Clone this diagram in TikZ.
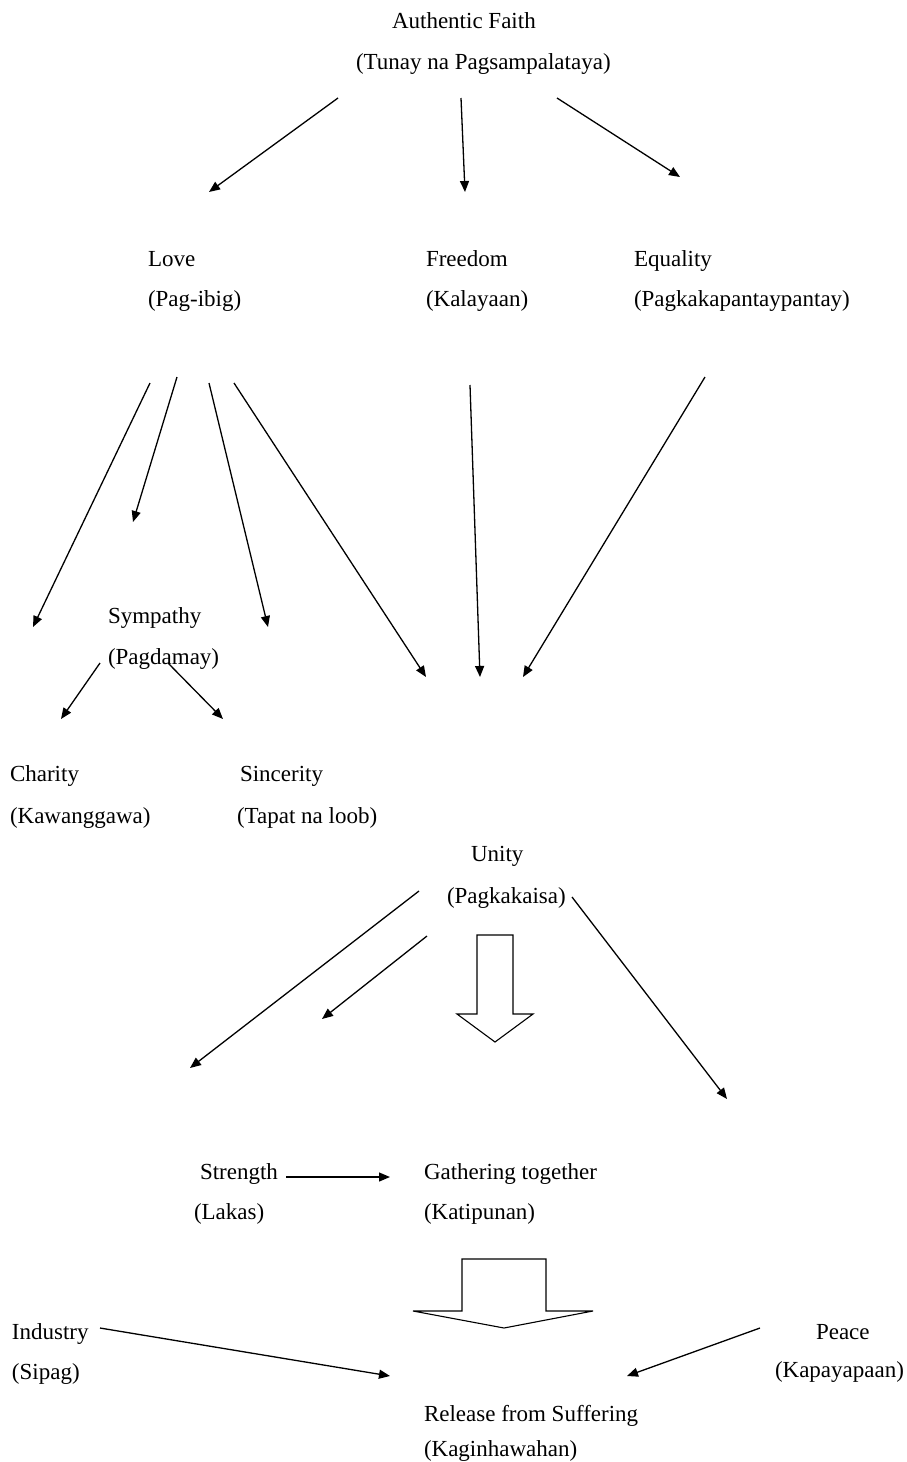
\documentclass[tikz,border=0pt]{standalone}
\usepackage{fontspec}
\setmainfont{Liberation Serif}
\usetikzlibrary{arrows.meta}
\begin{document}
\begin{tikzpicture}[x=1pt,y=-1pt,
  lbl/.style={anchor=base west,inner sep=0pt,outer sep=0pt,font=\fontsize{23}{28}\selectfont},
  conn/.style={-{Triangle[length=11pt,width=9pt]},line width=1.3pt},
  blockarrow/.style={draw,line width=1.1pt,fill=white,line join=miter}]
\useasboundingbox (0,0) rectangle (907,1462);
% labels
\node[lbl] (af1) at (392,28) {Authentic Faith};
\node[lbl] (af2) at (356,69) {(Tunay na Pagsampalataya)};
\node[lbl] (lo1) at (148,266) {Love};
\node[lbl] (lo2) at (148,306) {(Pag-ibig)};
\node[lbl] (fr1) at (426,266) {Freedom};
\node[lbl] (fr2) at (426,306) {(Kalayaan)};
\node[lbl] (eq1) at (634,266) {Equality};
\node[lbl] (eq2) at (634,306) {(Pagkakapantaypantay)};
\node[lbl] (sy1) at (108,623) {Sympathy};
\node[lbl] (sy2) at (108,664) {(Pagdamay)};
\node[lbl] (ch1) at (10,781) {Charity};
\node[lbl] (ch2) at (10,823) {(Kawanggawa)};
\node[lbl] (si1) at (240,781) {Sincerity};
\node[lbl] (si2) at (237,823) {(Tapat na loob)};
\node[lbl] (un1) at (471,861) {Unity};
\node[lbl] (un2) at (447,903) {(Pagkakaisa)};
\node[lbl] (st1) at (200,1179) {Strength};
\node[lbl] (st2) at (194,1219) {(Lakas)};
\node[lbl] (ga1) at (424,1179) {Gathering together};
\node[lbl] (ga2) at (424,1219) {(Katipunan)};
\node[lbl] (in1) at (12,1339) {Industry};
\node[lbl] (in2) at (12,1379) {(Sipag)};
\node[lbl] (pe1) at (816,1339) {Peace};
\node[lbl] (pe2) at (775,1377) {(Kapayapaan)};
\node[lbl] (re1) at (424,1421) {Release from Suffering};
\node[lbl] (re2) at (424,1456) {(Kaginhawahan)};
% connector end points
\coordinate (a1s) at (338,98);  \coordinate (a1e) at (209,192);
\coordinate (a2s) at (461,98);  \coordinate (a2e) at (465,192);
\coordinate (a3s) at (557,98);  \coordinate (a3e) at (680,177);
\coordinate (l1s) at (150,383); \coordinate (l1e) at (33,627);
\coordinate (l2s) at (177,377); \coordinate (l2e) at (133,522);
\coordinate (l3s) at (209,383); \coordinate (l3e) at (268,627);
\coordinate (l4s) at (234,383); \coordinate (l4e) at (426,677);
\coordinate (f1s) at (470,385); \coordinate (f1e) at (480,677);
\coordinate (e1s) at (705,377); \coordinate (e1e) at (523,677);
\coordinate (s1s) at (100,663); \coordinate (s1e) at (61,719);
\coordinate (s2s) at (168,663); \coordinate (s2e) at (223,719);
\coordinate (u1s) at (419,891); \coordinate (u1e) at (190,1068);
\coordinate (u2s) at (427,936); \coordinate (u2e) at (322,1019);
\coordinate (u3s) at (572,897); \coordinate (u3e) at (727,1099);
\coordinate (sts) at (286,1177); \coordinate (ste) at (390,1177);
\coordinate (ins) at (100,1328); \coordinate (ine) at (390,1376);
\coordinate (pes) at (760,1328); \coordinate (pee) at (627,1376);
% connectors
\draw[conn] (a1s) -- (a1e);
\draw[conn] (a2s) -- (a2e);
\draw[conn] (a3s) -- (a3e);
\draw[conn] (l1s) -- (l1e);
\draw[conn] (l2s) -- (l2e);
\draw[conn] (l3s) -- (l3e);
\draw[conn] (l4s) -- (l4e);
\draw[conn] (f1s) -- (f1e);
\draw[conn] (e1s) -- (e1e);
\draw[conn] (s1s) -- (s1e);
\draw[conn] (s2s) -- (s2e);
\draw[conn] (u1s) -- (u1e);
\draw[conn] (u2s) -- (u2e);
\draw[conn] (u3s) -- (u3e);
\draw[conn] (sts) -- (ste);
\draw[conn] (ins) -- (ine);
\draw[conn] (pes) -- (pee);
% block arrows
\draw[blockarrow] (477,935) -- (513,935) -- (513,1014) -- (533,1014) -- (495,1042) -- (457,1014) -- (477,1014) -- cycle;
\draw[blockarrow] (462,1259) -- (546,1259) -- (546,1311) -- (593,1311) -- (504,1328) -- (413,1311) -- (462,1311) -- cycle;
\end{tikzpicture}
\end{document}
